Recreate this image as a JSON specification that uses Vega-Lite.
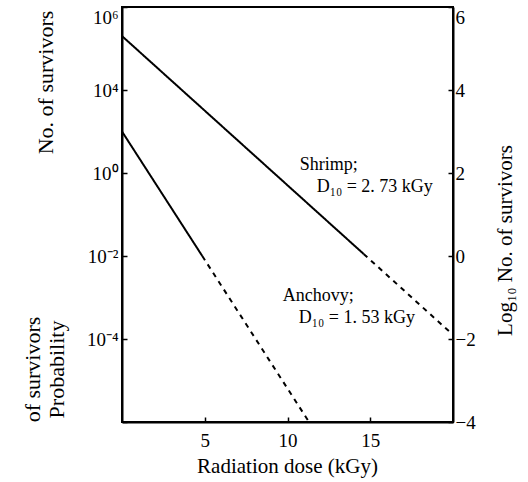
{
  "$schema": "https://vega.github.io/schema/vega-lite/v6.json",
  "width": 331,
  "height": 415,
  "autosize": "none",
  "padding": {"left": 122, "top": 7, "right": 75, "bottom": 60},
  "background": "white",
  "config": {
    "view": {"stroke": "black", "strokeWidth": 2},
    "font": "Liberation Serif, Times New Roman, serif",
    "axis": {
      "domainColor": "black",
      "domainWidth": 2,
      "tickColor": "black",
      "tickWidth": 1.5,
      "tickSize": -5,
      "labelColor": "black",
      "titleColor": "black",
      "labelFont": "Liberation Serif, Times New Roman, serif",
      "titleFont": "Liberation Serif, Times New Roman, serif",
      "labelFontSize": 19,
      "titleFontSize": 21,
      "titleFontWeight": "normal",
      "grid": false
    }
  },
  "datasets": {
    "curves": [
      {"species": "Shrimp", "seg": "solid", "dose": 0, "logN": 5.3},
      {"species": "Shrimp", "seg": "solid", "dose": 14.6, "logN": 0.05},
      {"species": "Shrimp", "seg": "dashed", "dose": 14.6, "logN": 0.05},
      {"species": "Shrimp", "seg": "dashed", "dose": 20, "logN": -1.9},
      {"species": "Anchovy", "seg": "solid", "dose": 0, "logN": 3.0},
      {"species": "Anchovy", "seg": "solid", "dose": 4.85, "logN": 0.0},
      {"species": "Anchovy", "seg": "dashed", "dose": 4.85, "logN": 0.0},
      {"species": "Anchovy", "seg": "dashed", "dose": 11.3, "logN": -4.0}
    ],
    "notes": [
      {"label": "Shrimp;", "dose": 10.74, "logN": 2.19},
      {"label": "D₁₀ = 2. 73 kGy", "dose": 11.76, "logN": 1.66},
      {"label": "Anchovy;", "dose": 9.72, "logN": -0.96},
      {"label": "D₁₀ = 1. 53 kGy", "dose": 10.68, "logN": -1.49}
    ]
  },
  "layer": [
    {
      "data": {"name": "curves"},
      "transform": [{"filter": "datum.species == 'Shrimp'"}],
      "mark": {"type": "line", "color": "black", "strokeWidth": 2},
      "encoding": {
        "x": {
          "field": "dose", "type": "quantitative",
          "scale": {"domain": [0, 20], "nice": false, "zero": false},
          "axis": {
            "values": [5, 10, 15],
            "title": "Radiation dose (kGy)",
            "labelPadding": 14,
            "titleX": 165,
            "titleY": 44,
            "titleBaseline": "middle"
          }
        },
        "y": {
          "field": "logN", "type": "quantitative",
          "scale": {"domain": [-4, 6], "nice": false, "zero": false},
          "axis": {
            "orient": "left",
            "values": [-4, -2, 0, 2, 4, 6],
            "labelExpr": "datum.value == 6 ? '10⁶' : datum.value == 4 ? '10⁴' : datum.value == 2 ? '10⁰' : datum.value == 0 ? '10⁻²' : datum.value == -2 ? '10⁻⁴' : ''",
            "labelPadding": 9,
            "labelOffset": {"condition": {"test": "datum.value == 6", "value": 10}, "value": 0},
            "title": "No. of survivors",
            "titleFontSize": 22,
            "titleAngle": -90,
            "titleAlign": "center",
            "titleBaseline": "middle",
            "titleX": -77,
            "titleY": 75
          }
        },
        "detail": {"field": "seg"},
        "strokeDash": {
          "field": "seg", "type": "nominal",
          "scale": {"domain": ["solid", "dashed"], "range": [[1, 0], [5, 5]]},
          "legend": null
        }
      }
    },
    {
      "data": {"name": "curves"},
      "transform": [{"filter": "datum.species == 'Anchovy'"}],
      "mark": {"type": "line", "color": "black", "strokeWidth": 2},
      "encoding": {
        "x": {"field": "dose", "type": "quantitative"},
        "y": {
          "field": "logN", "type": "quantitative",
          "scale": {"domain": [-4, 6], "nice": false, "zero": false},
          "axis": {
            "orient": "left",
            "offset": 0,
            "labels": false,
            "ticks": false,
            "domain": false,
            "title": ["of survivors", "Probability"],
            "titleFontSize": 22,
            "titleAngle": -90,
            "titleAlign": "center",
            "titleBaseline": "middle",
            "titleLineHeight": 24,
            "titleX": -90,
            "titleY": 362
          }
        },
        "detail": {"field": "seg"},
        "strokeDash": {
          "field": "seg", "type": "nominal",
          "scale": {"domain": ["solid", "dashed"], "range": [[1, 0], [5, 5]]},
          "legend": null
        }
      }
    },
    {
      "data": {"name": "notes"},
      "mark": {"type": "text", "align": "left", "baseline": "middle", "fontSize": 18, "font": "Liberation Serif, Times New Roman, serif", "color": "black"},
      "encoding": {
        "x": {"field": "dose", "type": "quantitative"},
        "y": {
          "field": "logN", "type": "quantitative",
          "scale": {"domain": [-4, 6], "nice": false, "zero": false},
          "axis": {
            "orient": "right",
            "values": [-4, -2, 0, 2, 4, 6],
            "labelExpr": "datum.value < 0 ? '−' + abs(datum.value) : '' + datum.value",
            "labelPadding": 7,
            "labelOffset": {"condition": {"test": "datum.value == 6", "value": 10}, "value": 0},
            "title": "Log₁₀ No. of survivors",
            "titleAngle": -90,
            "titleAlign": "center",
            "titleBaseline": "middle",
            "titleX": 52,
            "titleY": 233
          }
        },
        "text": {"field": "label"}
      }
    }
  ],
  "resolve": {"scale": {"y": "independent"}, "axis": {"y": "independent"}}
}
